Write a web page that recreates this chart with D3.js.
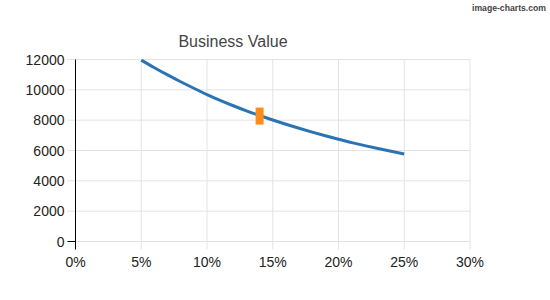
<!DOCTYPE html>
<html>
<head>
<meta charset="utf-8">
<script src="https://cdn.jsdelivr.net/npm/d3@7"></script>
<style>
  body { margin: 0; background: #fff; }
  text { font-family: "Liberation Sans", Arial, sans-serif; }
</style>
</head>
<body>
<div id="chart"></div>
<script>
// curve (rate in %, value)
const rates = [5, 6, 7, 8, 9, 10, 11, 12, 13, 14, 15, 16, 17, 18, 19, 20, 21, 22, 23, 24, 25];
const values = [11960, 11460, 10985, 10535, 10105, 9690, 9305, 8950, 8615, 8305, 8010,
    7730, 7465, 7210, 6970, 6740, 6520, 6320, 6130, 5945, 5770];

// single highlighted point
const markerRate = [14];
const markerValue = [8270];

const xTicks = [0, 5, 10, 15, 20, 25, 30];
const yTicks = [0, 2000, 4000, 6000, 8000, 10000, 12000];
const title = 'Business Value';

const width = 550;
const height = 300;
const margin = { top: 59.5, right: 80, bottom: 58.5, left: 75.5 };

const svg = d3.select('#chart').append('svg')
    .attr('width', width)
    .attr('height', height);

const x = d3.scaleLinear().domain([0, 30]).range([margin.left, width - margin.right]);
const y = d3.scaleLinear().domain([0, 12000]).range([height - margin.bottom, margin.top]);

// grid
svg.append('g')
    .selectAll('line')
    .data(xTicks)
    .join('line')
    .attr('x1', d => x(d)).attr('x2', d => x(d))
    .attr('y1', y(12000)).attr('y2', y(0) + 8)
    .attr('stroke', '#e3e3e3');

svg.append('g')
    .selectAll('line')
    .data(yTicks)
    .join('line')
    .attr('x1', x(0) - 8).attr('x2', x(30))
    .attr('y1', d => y(d)).attr('y2', d => y(d))
    .attr('stroke', '#e3e3e3');

// y axis line
svg.append('line')
    .attr('x1', x(0)).attr('x2', x(0))
    .attr('y1', y(12000)).attr('y2', y(0) + 8)
    .attr('stroke', '#000');
svg.append('line')
    .attr('x1', x(0) - 8).attr('x2', x(0))
    .attr('y1', y(0)).attr('y2', y(0))
    .attr('stroke', '#000');

// tick labels
svg.append('g')
    .selectAll('text')
    .data(yTicks)
    .join('text')
    .attr('x', x(0) - 11)
    .attr('y', d => y(d) + 5)
    .attr('text-anchor', 'end')
    .attr('font-size', 14)
    .attr('fill', '#222')
    .text(d => d);

svg.append('g')
    .selectAll('text')
    .data(xTicks)
    .join('text')
    .attr('x', d => x(d))
    .attr('y', y(0) + 25)
    .attr('text-anchor', 'middle')
    .attr('font-size', 14)
    .attr('fill', '#222')
    .text(d => d + '%');

// curve
const line = d3.line()
    .x(d => x(d[0]))
    .y(d => y(d[1]))
    .curve(d3.curveMonotoneX);

svg.append('path')
    .datum(d3.zip(rates, values))
    .attr('d', line)
    .attr('fill', 'none')
    .attr('stroke', '#2a74b4')
    .attr('stroke-width', 3);

// marker
svg.append('g')
    .selectAll('rect')
    .data(d3.zip(markerRate, markerValue))
    .join('rect')
    .attr('x', d => x(d[0]) - 4)
    .attr('y', d => y(d[1]) - 8.5)
    .attr('width', 8)
    .attr('height', 17)
    .attr('fill', '#ff8c1a');

// title
svg.append('text')
    .attr('x', 233)
    .attr('y', 47)
    .attr('text-anchor', 'middle')
    .attr('font-size', 16)
    .attr('fill', '#444')
    .text(title);

// watermark
svg.append('text')
    .attr('x', 472)
    .attr('y', 11)
    .attr('textLength', 74)
    .attr('lengthAdjust', 'spacingAndGlyphs')
    .attr('font-size', 9)
    .attr('font-weight', 'bold')
    .attr('font-family', '"DejaVu Sans Mono", monospace')
    .attr('fill', '#444')
    .text('image-charts.com');
</script>
</body>
</html>
